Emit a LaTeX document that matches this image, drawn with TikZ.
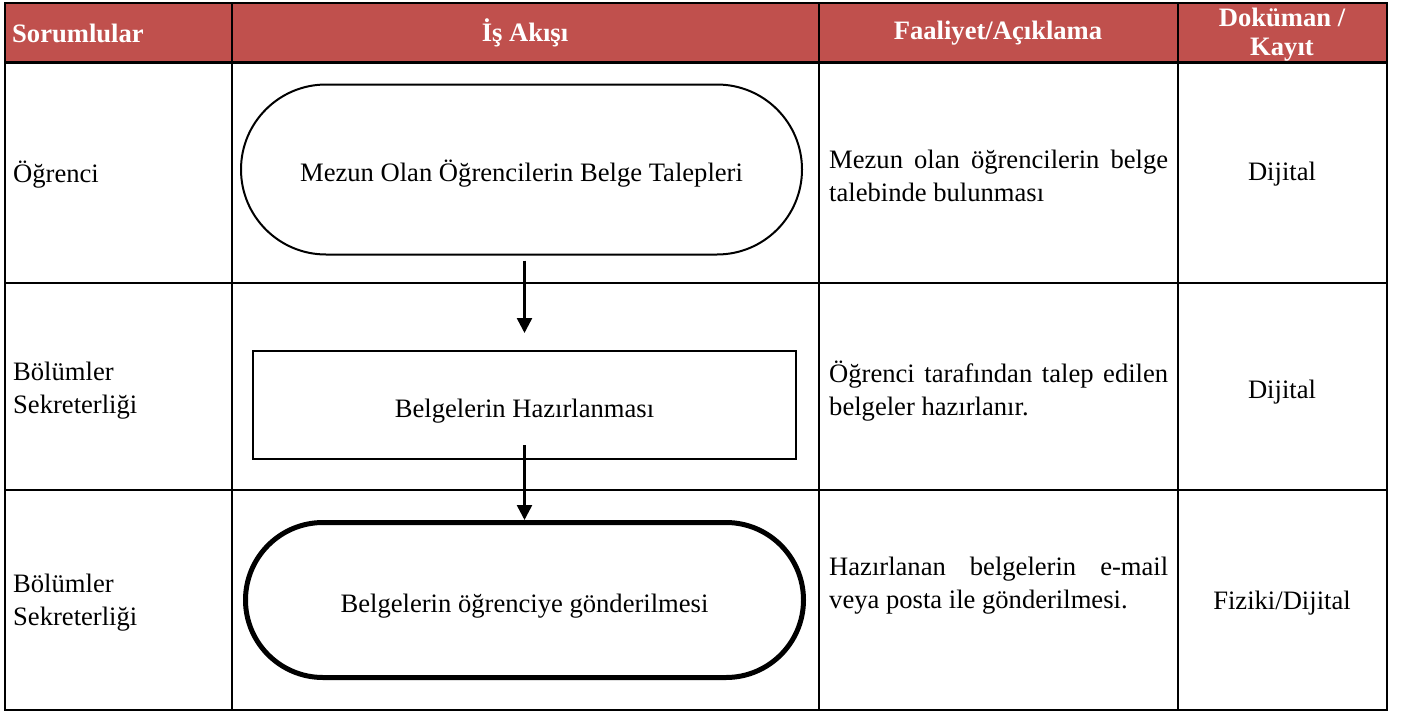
\documentclass[tikz,border=0pt]{standalone}
\usepackage{fontspec}
\setmainfont{Liberation Serif}
\usetikzlibrary{arrows.meta,shapes.misc}
\definecolor{headred}{RGB}{192,80,77}
\hyphenpenalty=10000
\begin{document}
\begin{tikzpicture}[x=1pt,y=-1pt,
    every node/.style={font=\fontsize{26.6}{33}\selectfont,inner sep=0pt},
    head/.style={text=white,font=\fontsize{26.6}{29}\selectfont\bfseries},
    terminal/.style={rounded rectangle,draw,line width=2pt,minimum width=561pt,minimum height=170pt,text height=24pt,text depth=0pt},
    process/.style={rectangle,draw,line width=2pt,minimum width=543pt,minimum height=108pt,text height=24pt,text depth=0pt},
    note/.style={text width=339pt,align=justify},
    flow/.style={line width=2.5pt,-{Triangle[width=15pt,length=15pt]}}]
            \useasboundingbox (0,0) rectangle (1409,715);

            % table
            \fill[headred] (5,3) rectangle (1387,62);
            \foreach \x in {232,819,1178}
              \draw[line width=2pt] (\x,3) -- (\x,710);
            \draw[line width=3pt] (5,62) -- (1387,62);
            \foreach \y in {283,490}
              \draw[line width=2pt] (5,\y) -- (1387,\y);
            \draw[line width=2.5pt] (5,3) rectangle (1387,710);

            % header
            \node[head,anchor=west] (hresp) at (12,33) {Sorumlular};
            \node[head] (hflow) at (525,33) {İş Akışı};
            \node[head] (hact) at (998,33) {Faaliyet/Açıklama};
            \node[head,align=center] (hdoc) at (1282,34.5) {Doküman /\\Kayıt};

            % responsibles
            \node[anchor=west] (r1) at (13,175) {Öğrenci};
            \node[anchor=west,align=left] (r2) at (13,391) {Bölümler\\Sekreterliği};
            \node[anchor=west,align=left] (r3) at (13,603) {Bölümler\\Sekreterliği};

            % flow
            \node[terminal] (start) at (521.5,169.5) {Mezun Olan Öğrencilerin Belge Talepleri};
            \node[process] (prep) at (524.5,405) {Belgelerin Hazırlanması};
            \node[terminal,line width=5pt,minimum width=558pt,minimum height=155pt] (send) at (524.5,600) {Belgelerin öğrenciye gönderilmesi};

            \path (start.south -| prep.north) ++(0,5) coordinate (a1);
            \draw[flow] (a1) -- ([yshift=17pt]prep.north);
            \draw[flow] ([yshift=15pt]prep.south) -- (send.north);

            % notes
            \node[note,anchor=west] (n1) at (829,176) {Mezun olan öğrencilerin belge talebinde bulunması};
            \node[note,anchor=west] (n2) at (829,391) {Öğrenci tarafından talep edilen belgeler hazırlanır.};
            \node[note,anchor=west] (n3) at (829,586) {Hazırlanan belgelerin e-mail veya posta ile gönderilmesi.};

            % records
            \node (d1) at (1282,174) {Dijital};
            \node (d2) at (1282,392) {Dijital};
            \node (d3) at (1282,603) {Fiziki/Dijital};
          \end{tikzpicture}
\end{document}
